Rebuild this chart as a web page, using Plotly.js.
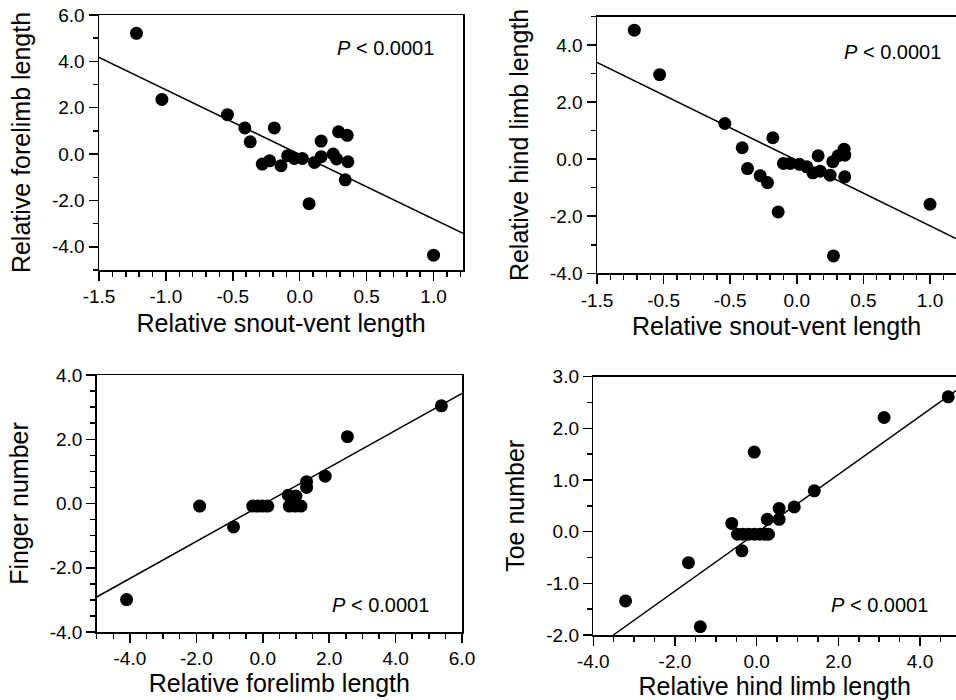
<!DOCTYPE html>
<html>
<head>
<meta charset="utf-8">
<script src="https://cdn.plot.ly/plotly-3.0.1.min.js"></script>
<style>html,body{margin:0;padding:0;background:#fff;}#chart{width:956px;height:700px;}</style>
</head>
<body>
<div id="chart"></div>
<script>
// ---------- Data ----------
// Panel A: relative forelimb length vs relative snout-vent length
const svlA = [-1.22, -1.03, -0.54, -0.41, -0.37, -0.19, -0.28, -0.225, -0.14, -0.09, -0.04, 0.02, 0.07, 0.11, 0.16, 0.16, 0.25, 0.275, 0.29, 0.355, 0.36, 0.34, 1.0];
const foreA = [5.21, 2.36, 1.70, 1.13, 0.53, 1.13, -0.43, -0.29, -0.50, -0.07, -0.19, -0.19, -2.14, -0.36, 0.56, -0.11, 0.0, -0.21, 0.96, 0.81, -0.33, -1.11, -4.36];
const fitAx = [-1.5, 1.22];
const fitAy = [4.17, -3.42];

// Panel B: relative hind limb length vs relative snout-vent length
const svlB = [-1.22, -1.03, -0.54, -0.41, -0.37, -0.18, -0.275, -0.22, -0.14, -0.10, -0.05, 0.02, 0.075, 0.12, 0.16, 0.175, 0.25, 0.27, 0.31, 0.355, 0.36, 0.36, 0.275, 1.0];
const hindB = [4.52, 2.96, 1.25, 0.40, -0.33, 0.75, -0.58, -0.82, -1.85, -0.15, -0.15, -0.18, -0.27, -0.48, 0.12, -0.42, -0.56, -0.09, 0.12, 0.35, 0.14, -0.62, -3.39, -1.58];
const fitBx = [-1.5, 1.195];
const fitBy = [3.39, -2.78];

// Panel C: finger number vs relative forelimb length
const foreC = [-4.1, -1.9, -0.88, -0.3, -0.15, 0.0, 0.15, 0.8, 0.98, 1.15, 0.77, 1.0, 1.32, 1.32, 1.88, 2.55, 5.38];
const fingerC = [-2.99, -0.08, -0.73, -0.08, -0.08, -0.08, -0.08, -0.08, -0.08, -0.08, 0.26, 0.23, 0.50, 0.68, 0.85, 2.08, 3.04];
const fitCx = [-5, 6];
const fitCy = [-2.91, 3.43];

// Panel D: toe number vs relative hind limb length
const hindD = [-3.21, -1.67, -1.38, -0.61, -0.36, -0.06, -0.47, -0.34, -0.2, -0.06, 0.08, 0.2, 0.29, 0.26, 0.55, 0.55, 0.92, 1.41, 3.12, 4.69];
const toeD = [-1.34, -0.60, -1.84, 0.16, -0.37, 1.54, -0.05, -0.05, -0.05, -0.05, -0.05, -0.05, -0.05, 0.24, 0.24, 0.45, 0.48, 0.79, 2.21, 2.61];
const fitDx = [-3.51, 4.88];
const fitDy = [-2.0, 2.73];

// Tick values and labels (as printed)
const tickA_x = [-1.5, -1.0, -0.5, 0.0, 0.5, 1.0];
const tickA_xt = ['-1.5', '-1.0', '-0.5', '0.0', '0.5', '1.0'];
const tickA_y = [-4, -2, 0, 2, 4, 6];
const tickA_yt = ['-4.0', '-2.0', '0.0', '2.0', '4.0', '6.0'];
const tickB_x = [-1.5, -1.0, -0.5, 0.0, 0.5, 1.0];
const tickB_xt = ['-1.5', '-0.5', '-0.5', '0.0', '0.5', '1.0'];
const tickB_y = [-4, -2, 0, 2, 4];
const tickB_yt = ['-4.0', '-2.0', '0.0', '2.0', '4.0'];
const tickC_x = [-4, -2, 0, 2, 4, 6];
const tickC_xt = ['-4.0', '-2.0', '0.0', '2.0', '4.0', '6.0'];
const tickC_y = [-4, -2, 0, 2, 4];
const tickC_yt = ['-4.0', '-2.0', '0.0', '2.0', '4.0'];
const tickD_x = [-4, -2, 0, 2, 4];
const tickD_xt = ['-4.0', '-2.0', '0.0', '2.0', '4.0'];
const tickD_y = [-2, -1, 0, 1, 2, 3];
const tickD_yt = ['-2.0', '-1.0', '0.0', '1.0', '2.0', '3.0'];

const titles = {
  ax: 'Relative snout-vent length', ay: 'Relative forelimb length',
  bx: 'Relative snout-vent length', by: 'Relative hind limb length',
  cx: 'Relative forelimb length', cy: 'Finger number',
  dx: 'Relative hind limb length', dy: 'Toe number'
};
const pText = '<i>P</i> &lt; 0.0001';

// ---------- Styling ----------
const FONT = 'Liberation Sans, Arial, Helvetica, sans-serif';
const W = 956, H = 700;
function xd(a, b) { return [a / W, b / W]; }
function yd(top, bottom) { return [1 - bottom / H, 1 - top / H]; }

function axis(o) {
  return {
    domain: o.domain, range: o.range, anchor: o.anchor,
    tickmode: 'array', tickvals: o.tv, ticktext: o.tt,
    showgrid: false, zeroline: false, showline: true, mirror: o.mirror,
    linecolor: '#000', linewidth: 1.5,
    ticks: 'outside', ticklen: 9, tickwidth: 1.5, tickcolor: '#000',
    tickfont: { family: FONT, size: 19, color: '#000' },
    minor: { ticks: 'outside', ticklen: 5, tickwidth: 1.5, tickcolor: '#000', dtick: o.minor, tick0: o.tick0, showgrid: false },
    title: { text: o.title, font: { family: FONT, size: 25, color: '#000' }, standoff: o.standoff },
    automargin: false, fixedrange: true
  };
}

const mk = { color: '#000', size: 13, line: { width: 0 } };
const ln = { color: '#000', width: 1.5 };

const data = [
  { x: svlA, y: foreA, xaxis: 'x', yaxis: 'y', mode: 'markers', type: 'scatter', marker: mk, cliponaxis: false },
  { x: fitAx, y: fitAy, xaxis: 'x', yaxis: 'y', mode: 'lines', type: 'scatter', line: ln },
  { x: svlB, y: hindB, xaxis: 'x2', yaxis: 'y2', mode: 'markers', type: 'scatter', marker: mk, cliponaxis: false },
  { x: fitBx, y: fitBy, xaxis: 'x2', yaxis: 'y2', mode: 'lines', type: 'scatter', line: ln },
  { x: foreC, y: fingerC, xaxis: 'x3', yaxis: 'y3', mode: 'markers', type: 'scatter', marker: mk, cliponaxis: false },
  { x: fitCx, y: fitCy, xaxis: 'x3', yaxis: 'y3', mode: 'lines', type: 'scatter', line: ln },
  { x: hindD, y: toeD, xaxis: 'x4', yaxis: 'y4', mode: 'markers', type: 'scatter', marker: mk, cliponaxis: false },
  { x: fitDx, y: fitDy, xaxis: 'x4', yaxis: 'y4', mode: 'lines', type: 'scatter', line: ln }
];

const layout = {
  width: W, height: H, showlegend: false,
  margin: { l: 0, r: 0, t: 0, b: 0, pad: 0 },
  paper_bgcolor: '#fff', plot_bgcolor: '#fff',
  font: { family: FONT, color: '#000' },
  xaxis: axis({ domain: xd(99, 463), range: [-1.5, 1.22], anchor: 'y', tv: tickA_x, tt: tickA_xt, minor: 0.1, tick0: -1.5, mirror: true, title: titles.ax, standoff: 8 }),
  yaxis: axis({ domain: yd(15, 270), range: [-5, 6], anchor: 'x', tv: tickA_y, tt: tickA_yt, minor: 1, tick0: 0, mirror: true, title: titles.ay, standoff: 14 }),
  xaxis2: axis({ domain: xd(597, 956), range: [-1.5, 1.195], anchor: 'y2', tv: tickB_x, tt: tickB_xt, minor: 0.1, tick0: -1.5, mirror: true, title: titles.bx, standoff: 8 }),
  yaxis2: axis({ domain: yd(16.5, 273.3), range: [-4, 5], anchor: 'x2', tv: tickB_y, tt: tickB_yt, minor: 1, tick0: 0, mirror: false, title: titles.by, standoff: 14 }),
  xaxis3: axis({ domain: xd(96.7, 462), range: [-5, 6], anchor: 'y3', tv: tickC_x, tt: tickC_xt, minor: 0.5, tick0: 0, mirror: true, title: titles.cx, standoff: 6 }),
  yaxis3: axis({ domain: yd(375, 632), range: [-4, 4], anchor: 'x3', tv: tickC_y, tt: tickC_yt, minor: 0.5, tick0: 0, mirror: true, title: titles.cy, standoff: 14 }),
  xaxis4: axis({ domain: xd(593.3, 956), range: [-4, 4.88], anchor: 'y4', tv: tickD_x, tt: tickD_xt, minor: 0.5, tick0: 0, mirror: true, title: titles.dx, standoff: 6 }),
  yaxis4: axis({ domain: yd(376.7, 635), range: [-2, 3], anchor: 'x4', tv: tickD_y, tt: tickD_yt, minor: 0.5, tick0: 0, mirror: false, title: titles.dy, standoff: 14 }),
  annotations: [
    { xref: 'x', yref: 'y', x: 0.64, y: 4.58, text: pText, showarrow: false, font: { family: FONT, size: 20, color: '#000' } },
    { xref: 'x2', yref: 'y2', x: 0.715, y: 3.75, text: pText, showarrow: false, font: { family: FONT, size: 20, color: '#000' } },
    { xref: 'x3', yref: 'y3', x: 3.54, y: -3.16, text: pText, showarrow: false, font: { family: FONT, size: 20, color: '#000' } },
    { xref: 'x4', yref: 'y4', x: 3.0, y: -1.42, text: pText, showarrow: false, font: { family: FONT, size: 20, color: '#000' } }
  ]
};

Plotly.newPlot('chart', data, layout, { staticPlot: true, displayModeBar: false });
</script>
</body>
</html>
